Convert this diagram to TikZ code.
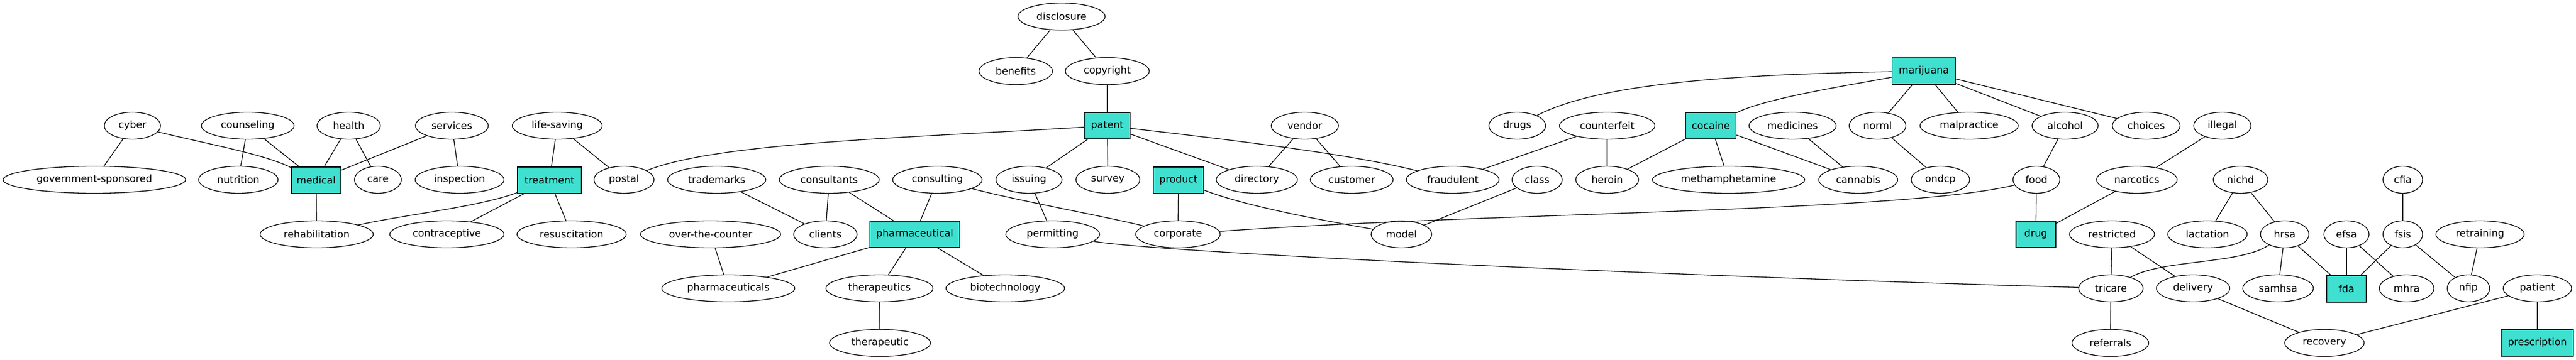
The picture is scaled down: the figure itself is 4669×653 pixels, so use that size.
\documentclass[tikz,border=0pt]{standalone}
\usepackage{fontspec}
\setmainfont{DejaVu Sans}
\usetikzlibrary{shapes.geometric}
\definecolor{turq}{RGB}{64,224,208}
\tikzset{
  ell/.style={ellipse, draw, line width=1.3pt, minimum height=49pt, inner sep=0pt},
  bx/.style={rectangle, draw, line width=1.3pt, fill=turq, minimum height=48pt, inner sep=0pt},
  lnk/.style={line width=1.3pt}
}
\begin{document}
\begin{tikzpicture}[x=1pt,y=-1pt,font=\fontsize{18}{22}\selectfont]
\useasboundingbox (0,0) rectangle (4669,653);
% row 1
\node[ell, minimum width=158pt] (disclosure) at (1924,30) {disclosure};
% row 2
\node[ell, minimum width=133pt] (benefits) at (1841,129) {benefits};
\node[ell, minimum width=152pt] (copyright) at (2007,129) {copyright};
\node[bx, minimum width=115pt] (marijuana) at (3487,129) {marijuana};
% row 3
\node[ell, minimum width=102pt] (cyber) at (240,228) {cyber};
\node[ell, minimum width=168pt] (counseling) at (449,228) {counseling};
\node[ell, minimum width=115pt] (health) at (632,228) {health};
\node[ell, minimum width=132pt] (services) at (819,228) {services};
\node[ell, minimum width=163pt] (lifesaving) at (1010,228) {life-saving};
\node[bx, minimum width=83pt] (patent) at (2007,228) {patent};
\node[ell, minimum width=122pt] (vendor) at (2365,228) {vendor};
\node[ell, minimum width=103pt] (drugs) at (2750,228) {drugs};
\node[ell, minimum width=173pt] (counterfeit) at (2913,228) {counterfeit};
\node[bx, minimum width=91pt] (cocaine) at (3101,228) {cocaine};
\node[ell, minimum width=158pt] (medicines) at (3249,228) {medicines};
\node[ell, minimum width=103pt] (norml) at (3403,228) {norml};
\node[ell, minimum width=178pt] (malpractice) at (3569,228) {malpractice};
\node[ell, minimum width=120pt] (alcohol) at (3743,228) {alcohol};
\node[ell, minimum width=123pt] (choices) at (3890,228) {choices};
\node[ell, minimum width=104pt] (illegal) at (4028,228) {illegal};
% row 4
\node[ell, minimum width=331pt] (gov) at (171,326) {government-sponsored};
\node[ell, minimum width=144pt] (nutrition) at (432,326) {nutrition};
\node[bx, minimum width=90pt] (medical) at (573,327) {medical};
\node[ell, minimum width=85pt] (care) at (685,326) {care};
\node[ell, minimum width=161pt] (inspection) at (833,326) {inspection};
\node[bx, minimum width=116pt] (treatment) at (996,327) {treatment};
\node[ell, minimum width=109pt] (postal) at (1131,326) {postal};
\node[ell, minimum width=178pt] (trademarks) at (1299,326) {trademarks};
\node[ell, minimum width=181pt] (consultants) at (1503,326) {consultants};
\node[ell, minimum width=162pt] (consulting) at (1699,326) {consulting};
\node[ell, minimum width=120pt] (issuing) at (1865,326) {issuing};
\node[ell, minimum width=116pt] (survey) at (2008,326) {survey};
\node[bx, minimum width=91pt] (product) at (2136,327) {product};
\node[ell, minimum width=147pt] (directory) at (2278,326) {directory};
\node[ell, minimum width=150pt] (customer) at (2450,326) {customer};
\node[ell, minimum width=168pt] (fraudulent) at (2633,326) {fraudulent};
\node[ell, minimum width=91pt] (class) at (2786,326) {class};
\node[ell, minimum width=114pt] (heroin) at (2913,326) {heroin};
\node[ell, minimum width=276pt] (meth) at (3133,326) {methamphetamine};
\node[ell, minimum width=143pt] (cannabis) at (3368,326) {cannabis};
\node[ell, minimum width=106pt] (ondcp) at (3517,326) {ondcp};
\node[ell, minimum width=85pt] (food) at (3691,326) {food};
\node[ell, minimum width=146pt] (narcotics) at (3873,326) {narcotics};
\node[ell, minimum width=99pt] (nichd) at (4061,326) {nichd};
\node[ell, minimum width=72pt] (cfia) at (4355,326) {cfia};
% row 5
\node[ell, minimum width=205pt] (rehab) at (574,425) {rehabilitation};
\node[ell, minimum width=207pt] (contraceptive) at (810,425) {contraceptive};
\node[ell, minimum width=198pt] (resusc) at (1036,425) {resuscitation};
\node[ell, minimum width=254pt] (otc) at (1288,425) {over-the-counter};
\node[ell, minimum width=115pt] (clients) at (1496,425) {clients};
\node[bx, minimum width=163pt] (pharma) at (1658,425) {pharmaceutical};
\node[ell, minimum width=170pt] (permitting) at (1908,425) {permitting};
\node[ell, minimum width=153pt] (corporate) at (2135,425) {corporate};
\node[ell, minimum width=110pt] (model) at (2540,425) {model};
\node[bx, minimum width=72pt] (drug) at (3690,425) {drug};
\node[ell, minimum width=154pt] (restricted) at (3828,425) {restricted};
\node[ell, minimum width=144pt] (lactation) at (4001,425) {lactation};
\node[ell, minimum width=88pt] (hrsa) at (4141,425) {hrsa};
\node[ell, minimum width=82pt] (efsa) at (4253,425) {efsa};
\node[ell, minimum width=72pt] (fsis) at (4355,425) {fsis};
\node[ell, minimum width=160pt] (retraining) at (4495,425) {retraining};
% row 6
\node[ell, minimum width=241pt] (pharmas) at (1320,523) {pharmaceuticals};
\node[ell, minimum width=194pt] (therapeutics) at (1594,523) {therapeutics};
\node[ell, minimum width=215pt] (biotech) at (1822,523) {biotechnology};
\node[ell, minimum width=117pt] (tricare) at (3826,523) {tricare};
\node[ell, minimum width=133pt] (delivery) at (3975,523) {delivery};
\node[ell, minimum width=128pt] (samhsa) at (4129,523) {samhsa};
\node[bx, minimum width=72pt] (fda) at (4253,524) {fda};
\node[ell, minimum width=99pt] (mhra) at (4362,523) {mhra};
\node[ell, minimum width=77pt] (nfip) at (4474,523) {nfip};
\node[ell, minimum width=124pt] (patient) at (4599,523) {patient};
% row 7
\node[ell, minimum width=183pt] (therapeutic) at (1595,622) {therapeutic};
\node[ell, minimum width=139pt] (referrals) at (3825,622) {referrals};
\node[ell, minimum width=144pt] (recovery) at (4213,622) {recovery};
\node[bx, minimum width=131pt] (prescription) at (4599,622) {prescription};
% edges
\draw[lnk] (cyber) -- (gov);
\draw[lnk] (cyber) .. controls (380,262) and (480,280) .. (medical);
\draw[lnk] (counseling) -- (nutrition);
\draw[lnk] (counseling) -- (medical);
\draw[lnk] (health) -- (medical);
\draw[lnk] (health) -- (care);
\draw[lnk] (services) -- (medical);
\draw[lnk] (services) -- (inspection);
\draw[lnk] (medical) -- (rehab);
\draw[lnk] (treatment) .. controls (870,375) and (730,390) .. (rehab);
\draw[lnk] (treatment) -- (contraceptive);
\draw[lnk] (treatment) -- (resusc);
\draw[lnk] (lifesaving) -- (treatment);
\draw[lnk] (lifesaving) -- (postal);
\draw[lnk] (patent) .. controls (1650,250) and (1300,258) .. (postal);
\draw[lnk] (trademarks) -- (clients);
\draw[lnk] (consultants) -- (clients);
\draw[lnk] (consultants) -- (pharma);
\draw[lnk] (consulting) -- (pharma);
\draw[lnk] (consulting) .. controls (1850,365) and (2000,392) .. (corporate);
\draw[lnk] (otc) -- (pharmas);
\draw[lnk] (pharma) -- (pharmas);
\draw[lnk] (pharma) -- (therapeutics);
\draw[lnk] (pharma) -- (biotech);
\draw[lnk] (therapeutics) -- (therapeutic);
\draw[lnk] (disclosure) -- (benefits);
\draw[lnk] (disclosure) -- (copyright);
\draw[lnk] (copyright) -- (patent);
\draw[lnk] (patent) -- (issuing);
\draw[lnk] (patent) -- (survey);
\draw[lnk] (patent) -- (directory);
\draw[lnk] (patent) .. controls (2250,256) and (2450,280) .. (fraudulent);
\draw[lnk] (vendor) -- (directory);
\draw[lnk] (vendor) -- (customer);
\draw[lnk] (issuing) -- (permitting);
\draw[lnk] (permitting) .. controls (2100,458) and (3000,500) .. (tricare);
\draw[lnk] (product) -- (corporate);
\draw[lnk] (product) .. controls (2260,375) and (2400,400) .. (model);
\draw[lnk] (class) -- (model);
\draw[lnk] (food) .. controls (3450,385) and (2700,385) .. (corporate);
\draw[lnk] (marijuana) .. controls (3150,135) and (2900,150) .. (drugs);
\draw[lnk] (marijuana) .. controls (3350,155) and (3200,178) .. (cocaine);
\draw[lnk] (marijuana) -- (norml);
\draw[lnk] (marijuana) -- (malpractice);
\draw[lnk] (marijuana) -- (alcohol);
\draw[lnk] (marijuana) -- (choices);
\draw[lnk] (counterfeit) -- (fraudulent);
\draw[lnk] (counterfeit) -- (heroin);
\draw[lnk] (cocaine) -- (heroin);
\draw[lnk] (cocaine) -- (meth);
\draw[lnk] (cocaine) -- (cannabis);
\draw[lnk] (medicines) -- (cannabis);
\draw[lnk] (norml) -- (ondcp);
\draw[lnk] (alcohol) -- (food);
\draw[lnk] (food) -- (drug);
\draw[lnk] (illegal) -- (narcotics);
\draw[lnk] (narcotics) -- (drug);
\draw[lnk] (nichd) -- (lactation);
\draw[lnk] (nichd) -- (hrsa);
\draw[lnk] (cfia) -- (fsis);
\draw[lnk] (restricted) -- (tricare);
\draw[lnk] (restricted) -- (delivery);
\draw[lnk] (hrsa) .. controls (4060,480) and (3920,470) .. (tricare);
\draw[lnk] (hrsa) -- (samhsa);
\draw[lnk] (hrsa) -- (fda);
\draw[lnk] (efsa) -- (fda);
\draw[lnk] (efsa) -- (mhra);
\draw[lnk] (fsis) -- (fda);
\draw[lnk] (fsis) -- (nfip);
\draw[lnk] (retraining) -- (nfip);
\draw[lnk] (tricare) -- (referrals);
\draw[lnk] (delivery) -- (recovery);
\draw[lnk] (patient) -- (recovery);
\draw[lnk] (patient) -- (prescription);
\end{tikzpicture}
\end{document}
